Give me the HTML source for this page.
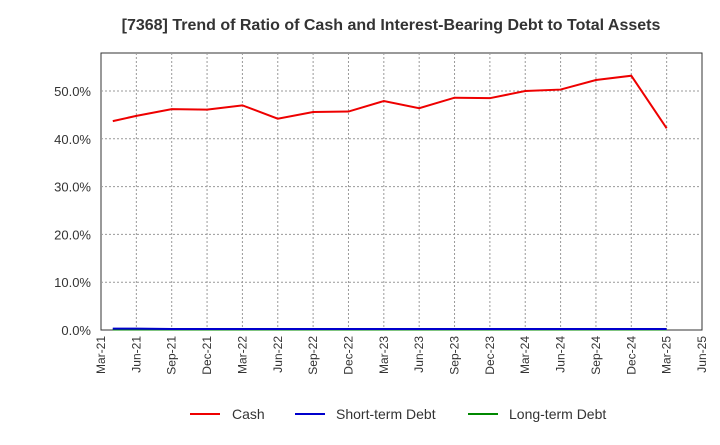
<!DOCTYPE html>
<html><head><meta charset="utf-8"><style>
body{margin:0;background:#fff;font-family:"Liberation Sans",sans-serif}
</style></head><body>
<svg width="720" height="440" xmlns="http://www.w3.org/2000/svg" font-family="Liberation Sans, sans-serif">
<text x="391" y="30" text-anchor="middle" font-size="16" font-weight="bold" fill="#333">[7368]  Trend of Ratio of Cash and Interest-Bearing Debt to Total Assets</text>
<g id="grid"></g><g id="axes"></g><g id="series"></g>
<g>
<line x1="190" y1="414" x2="220" y2="414" stroke="#e00" stroke-width="2"/><text x="232" y="419" font-size="14" fill="#333">Cash</text>
<line x1="295" y1="414" x2="325" y2="414" stroke="#00c" stroke-width="2"/><text x="336" y="419" font-size="14" fill="#333">Short-term Debt</text>
<line x1="468" y1="414" x2="498" y2="414" stroke="#080" stroke-width="2"/><text x="509" y="419" font-size="14" fill="#333">Long-term Debt</text>
</g>
</svg>
<script>
const xLabels=["Mar-21","Jun-21","Sep-21","Dec-21","Mar-22","Jun-22","Sep-22","Dec-22","Mar-23","Jun-23","Sep-23","Dec-23","Mar-24","Jun-24","Sep-24","Dec-24","Mar-25","Jun-25"];
const yTicks=[0,10,20,30,40,50];
const months=[1,3,6,9,12,15,18,21,24,27,30,33,36,39,42,45,48];
const cash=[43.7,44.8,46.2,46.1,47.0,44.2,45.6,45.7,47.9,46.4,48.6,48.5,50.0,50.3,52.3,53.2,42.2];
const shortDebt=[0.3,0.3,0.2,0.2,0.2,0.2,0.2,0.2,0.2,0.2,0.2,0.2,0.2,0.2,0.2,0.2,0.2];
const longDebt=[0.1,0.1,0.1,0.1,0.1,0.1,0.1,0.1,0.1,0.1,0.1,0.1,0.1,0.1,0.1,0.1,0.1];
const L=101,R=702,T=53,B=330;
const x=m=>L+m*(R-L)/51, y=v=>B-v*(B-91)/50;
const NS="http://www.w3.org/2000/svg";
function mk(p,t,a){const e=document.createElementNS(NS,t);for(const k in a)e.setAttribute(k,a[k]);p.appendChild(e);return e;}
const g=document.getElementById('grid'),ax=document.getElementById('axes'),s=document.getElementById('series');
mk(g,'rect',{x:L,y:T,width:R-L,height:B-T,fill:'#fff',stroke:'#333'});
xLabels.forEach((lb,i)=>{const xx=x(i*3);
 if(i>0&&i<xLabels.length-1){const l=mk(g,'line',{x1:xx,x2:xx,y1:T,y2:B,stroke:'#999','stroke-dasharray':'2,2'});
 
 }
 const t=mk(ax,'text',{x:0,y:0,transform:`translate(${xx+4},${B+6}) rotate(-90)`,'text-anchor':'end','font-size':12,fill:'#333'});t.textContent=lb;
 
 });
yTicks.forEach(v=>{const yy=y(v);
 if(v>0){const l=mk(g,'line',{x1:L,x2:R,y1:yy,y2:yy,stroke:'#999','stroke-dasharray':'2,2'});
 
 }
 const t=mk(ax,'text',{x:L-10,y:yy+5,'text-anchor':'end','font-size':13,fill:'#333'});t.textContent=v.toFixed(1)+'%';
 
 });
function line(d,c,n){const p=mk(s,'polyline',{points:d.map((v,i)=>x(months[i])+','+y(v)).join(' '),fill:'none',stroke:c,'stroke-width':2});
 
 }
line(longDebt,'#080','long-term-debt-line');
line(shortDebt,'#00c','short-term-debt-line');
line(cash,'#e00','cash-line');
</script>
</body></html>
